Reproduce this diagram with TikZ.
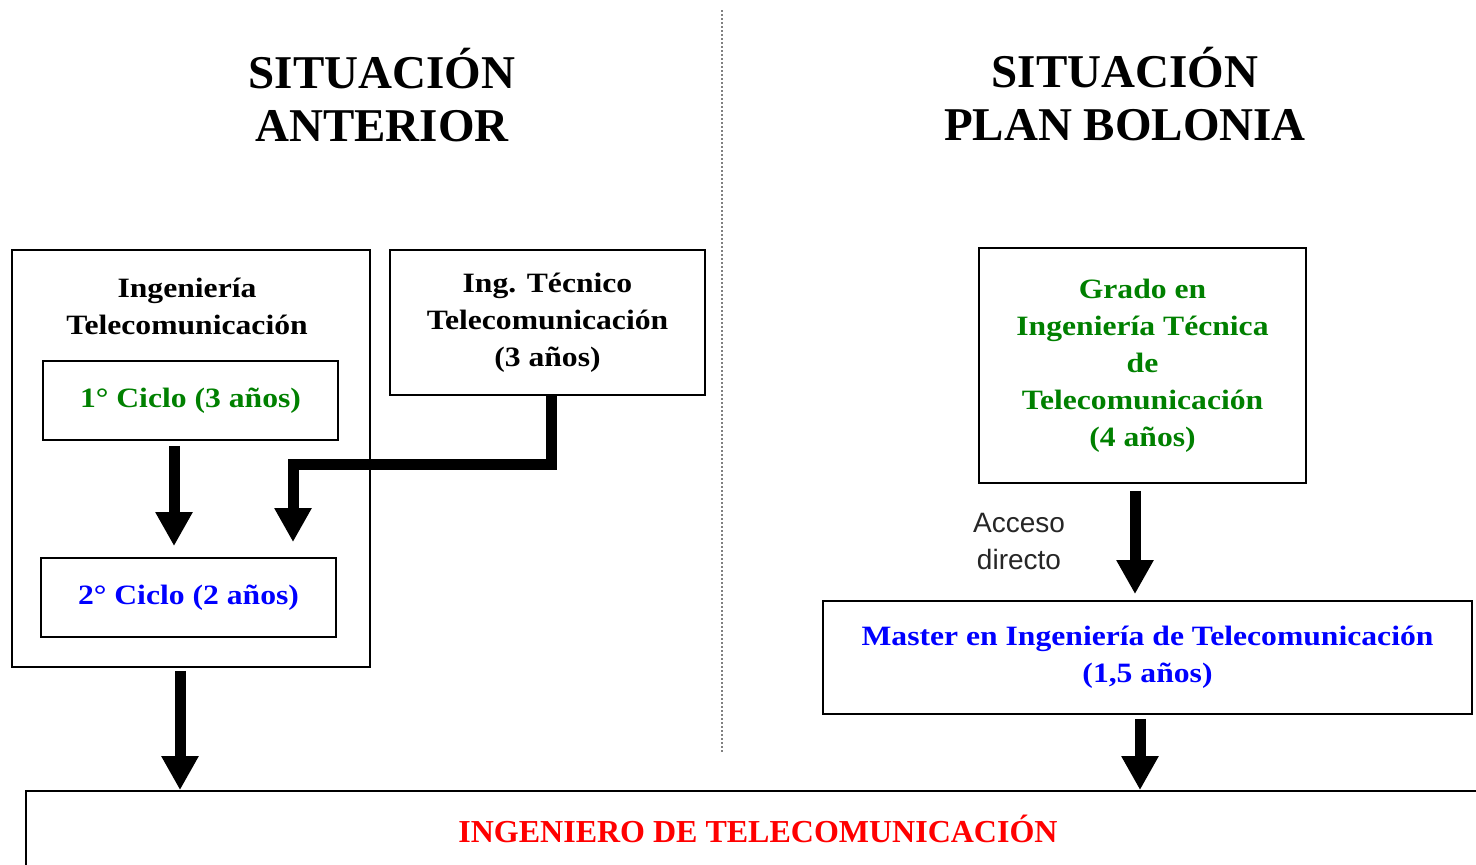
\documentclass[tikz,border=0pt]{standalone}
\usepackage{fontspec}
\setmainfont{Liberation Serif}
\newfontfamily\boxfont{Liberation Serif}[FakeStretch=1.13]
\newfontfamily\notefont{Liberation Sans}
\usetikzlibrary{arrows.meta}
\definecolor{green1}{RGB}{0,128,0}
\definecolor{blue1}{RGB}{0,0,255}
\definecolor{red1}{RGB}{255,0,0}
\tikzset{
  titletext/.style={font=\bfseries\fontsize{47}{53}\selectfont, align=center},
  boxtext/.style={font=\boxfont\bfseries\fontsize{28}{37}\selectfont, align=center},
  notetext/.style={font=\notefont\fontsize{28}{37}\selectfont, align=center, text=black!85},
  plainbox/.style={draw, line width=1.8pt, inner sep=0pt},
  bigarrow/.style={line width=11pt, line join=miter, -{Triangle[length=34pt,width=35pt]}},
}

\begin{document}
\begin{tikzpicture}[x=1pt,y=-1pt]
      \useasboundingbox (0,0) rectangle (1476,865);
      \clip (0,0) rectangle (1476,865);

      % titles and divider
      \node[titletext] (tant) at (382,95.5) {SITUACIÓN\\ANTERIOR};
      \node[titletext] (tbol) at (1125,94) {SITUACIÓN\\PLAN BOLONIA};
      \draw [gray, line width=1.2pt, dash pattern=on 2pt off 2pt] (722,10) -- (722,752);

      % situacion anterior
      \node[plainbox, minimum width=358pt, minimum height=417pt] (ingbox) at (191,458.5) {};
      \node[boxtext] (ingtitle) at (187,306.5) {Ingeniería\\Telecomunicación};
      \node[plainbox, boxtext, text=green1, minimum width=295pt, minimum height=79pt] (c1) at (190.5,400.5) {1°\ Ciclo\ (3 años)};
      \node[plainbox, boxtext, text=blue1, minimum width=295pt, minimum height=79pt] (c2) at (188.5,597.5) {2°\ Ciclo\ (2 años)};
      \node[plainbox, boxtext, minimum width=315pt, minimum height=145pt] (itt) at (547.5,322.5) {Ing. Técnico\\Telecomunicación\\(3 años)};

      % situacion plan bolonia
      \node[plainbox, boxtext, text=green1, minimum width=327pt, minimum height=235pt] (grado) at (1142.5,365.5) {Grado en\\Ingeniería Técnica\\de\\Telecomunicación\\(4 años)};
      \node[plainbox, boxtext, text=blue1, minimum width=649pt, minimum height=113pt] (master) at (1147.5,657.5) {Master en Ingeniería de Telecomunicación\\(1,5 años)};
      \node[notetext] (acceso) at (1019,541.5) {Acceso\\directo};

      % common result
      \node[plainbox, font=\bfseries\fontsize{32}{38}\selectfont, text=red1, minimum width=1464pt, minimum height=76pt] (fin) at (758,829) {INGENIERO DE TELECOMUNICACIÓN};

      % arrows
      \coordinate (bend) at (293,464);
      \draw[bigarrow, shorten <=5pt, shorten >=11pt] ([xshift=-16.5pt]c1.south) -- ([xshift=-16.5pt]c1.south |- c2.north);
      \draw[bigarrow, shorten >=15pt] ([xshift=4pt]itt.south) |- (bend) -- (bend |- c2.north);
      \draw[bigarrow, shorten <=3pt] ([xshift=-11pt]ingbox.south) -- ([xshift=-11pt]ingbox.south |- fin.north);
      \draw[bigarrow, shorten <=7pt, shorten >=6pt] ([xshift=-7.5pt]grado.south) -- ([xshift=-7.5pt]grado.south |- master.north);
      \draw[bigarrow, shorten <=4pt] ([xshift=-7.5pt]master.south) -- ([xshift=-7.5pt]master.south |- fin.north);
\end{tikzpicture}
\end{document}
